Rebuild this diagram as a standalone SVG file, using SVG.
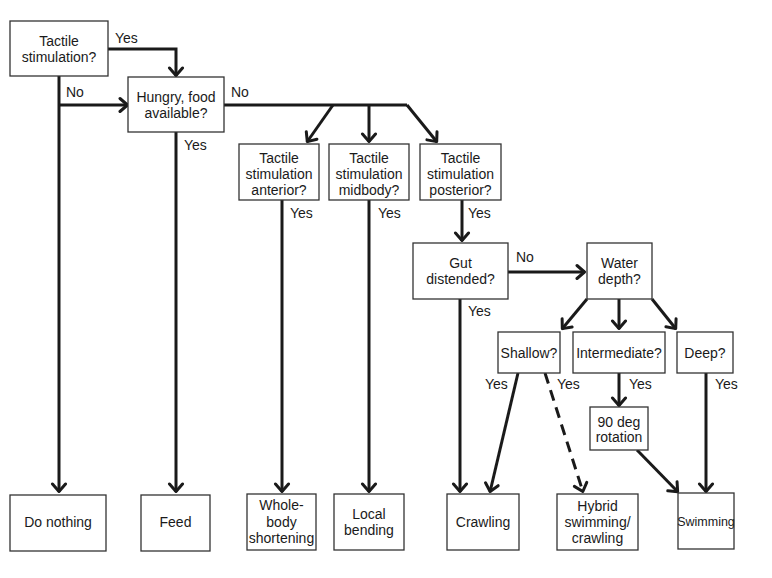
<svg xmlns="http://www.w3.org/2000/svg" width="772" height="578" viewBox="0 0 772 578">
<defs>
<marker id="arr" markerUnits="userSpaceOnUse" markerWidth="20" markerHeight="20" viewBox="-10 -10 20 20" refX="0" refY="0" orient="auto">
<path d="M-8,-6.5 L-0.5,0 L-8,6.5" fill="none" stroke="#1a1a1a" stroke-width="3" stroke-linejoin="round" stroke-linecap="round"/>
</marker>
</defs>
<style>
rect{fill:#fff;stroke:#333;stroke-width:1.3}
text{font-family:"Liberation Sans",Arial,sans-serif;font-size:14px;fill:#1a1a1a;text-anchor:middle}
text.l{text-anchor:start}
.c path{fill:none;stroke:#1a1a1a;stroke-width:3}
.c path.a{marker-end:url(#arr)}
.c path.d{stroke-dasharray:11 7}
</style>
<rect x="0" y="0" width="772" height="578" style="fill:#fff;stroke:none"/>
<g class="c" id="connectors">
<path class="a" d="M108,49 H176 V76"/>
<path class="a" d="M59,76 V492"/>
<path class="a" d="M59,105 H128"/>
<path class="a" d="M176,132 V492"/>
<path d="M224,105 H407"/>
<path class="a" d="M333,105 L307,142"/>
<path class="a" d="M369,105 V142"/>
<path class="a" d="M407,105 L437,142"/>
<path class="a" d="M282,200 V492"/>
<path class="a" d="M369,200 V492"/>
<path class="a" d="M462,200 V241"/>
<path class="a" d="M508,272 H585"/>
<path class="a" d="M460,299 V492"/>
<path class="a" d="M587,299 L562,329"/>
<path class="a" d="M619,299 V329"/>
<path class="a" d="M652,299 L676,329"/>
<path class="a" d="M518,373 L490,492"/>
<path class="a d" d="M545,373 L583,492"/>
<path class="a" d="M619,373 V406"/>
<path class="a" d="M637,450 L678,492"/>
<path class="a" d="M706,373 V492"/>
<text class="l" x="115" y="43">Yes</text>
<text class="l" x="66" y="97">No</text>
<text class="l" x="184" y="150">Yes</text>
<text class="l" x="231" y="97">No</text>
<text class="l" x="290" y="218">Yes</text>
<text class="l" x="378" y="218">Yes</text>
<text class="l" x="468" y="218">Yes</text>
<text class="l" x="516" y="262">No</text>
<text class="l" x="468" y="316">Yes</text>
<text class="l" x="485" y="389">Yes</text>
<text class="l" x="557" y="389">Yes</text>
<text class="l" x="629" y="389">Yes</text>
<text class="l" x="715" y="389">Yes</text>
</g>
<g id="tactile">
<rect x="10" y="21" width="98" height="55"/>
<text x="59" y="46">Tactile</text>
<text x="59" y="62">stimulation?</text>
</g>
<g id="hungry">
<rect x="128" y="77" width="96" height="55"/>
<text x="176" y="102">Hungry, food</text>
<text x="176" y="118">available?</text>
</g>
<g id="anterior">
<rect x="239" y="144" width="80" height="56"/>
<text x="279" y="163">Tactile</text>
<text x="279" y="179">stimulation</text>
<text x="279" y="195">anterior?</text>
</g>
<g id="midbody">
<rect x="329" y="144" width="80" height="56"/>
<text x="369" y="163">Tactile</text>
<text x="369" y="179">stimulation</text>
<text x="369" y="195">midbody?</text>
</g>
<g id="posterior">
<rect x="420" y="144" width="81" height="56"/>
<text x="460.5" y="163">Tactile</text>
<text x="460.5" y="179">stimulation</text>
<text x="460.5" y="195">posterior?</text>
</g>
<g id="gut">
<rect x="413" y="243" width="95" height="56"/>
<text x="460.5" y="268">Gut</text>
<text x="460.5" y="284">distended?</text>
</g>
<g id="water">
<rect x="587" y="243" width="65" height="56"/>
<text x="619.5" y="268">Water</text>
<text x="619.5" y="284">depth?</text>
</g>
<g id="shallow">
<rect x="498" y="332" width="62" height="41"/>
<text x="529" y="358">Shallow?</text>
</g>
<g id="intermediate">
<rect x="573" y="332" width="92" height="41"/>
<text x="619" y="358">Intermediate?</text>
</g>
<g id="deep">
<rect x="677" y="332" width="56" height="41"/>
<text x="705" y="358">Deep?</text>
</g>
<g id="rotation">
<rect x="590" y="407" width="58" height="43"/>
<text x="619" y="427">90 deg</text>
<text x="619" y="442">rotation</text>
</g>
<g id="donothing">
<rect x="10" y="495" width="96" height="56"/>
<text x="58" y="527">Do nothing</text>
</g>
<g id="feed">
<rect x="141" y="495" width="69" height="56"/>
<text x="175.5" y="527">Feed</text>
</g>
<g id="wholebody">
<rect x="247" y="494" width="69" height="56"/>
<text x="281.5" y="510">Whole-</text>
<text x="281.5" y="527">body</text>
<text x="281.5" y="543">shortening</text>
</g>
<g id="local">
<rect x="334" y="494" width="70" height="56"/>
<text x="369" y="519">Local</text>
<text x="369" y="535">bending</text>
</g>
<g id="crawling">
<rect x="447" y="494" width="72" height="56"/>
<text x="483" y="527">Crawling</text>
</g>
<g id="hybrid">
<rect x="557" y="494" width="81" height="56"/>
<text x="597.5" y="511">Hybrid</text>
<text x="597.5" y="527">swimming/</text>
<text x="597.5" y="543">crawling</text>
</g>
<g id="swimming">
<rect x="678" y="493" width="56" height="56"/>
<text x="706" y="526" style="font-size:12.5px">Swimming</text>
</g>
</svg>
